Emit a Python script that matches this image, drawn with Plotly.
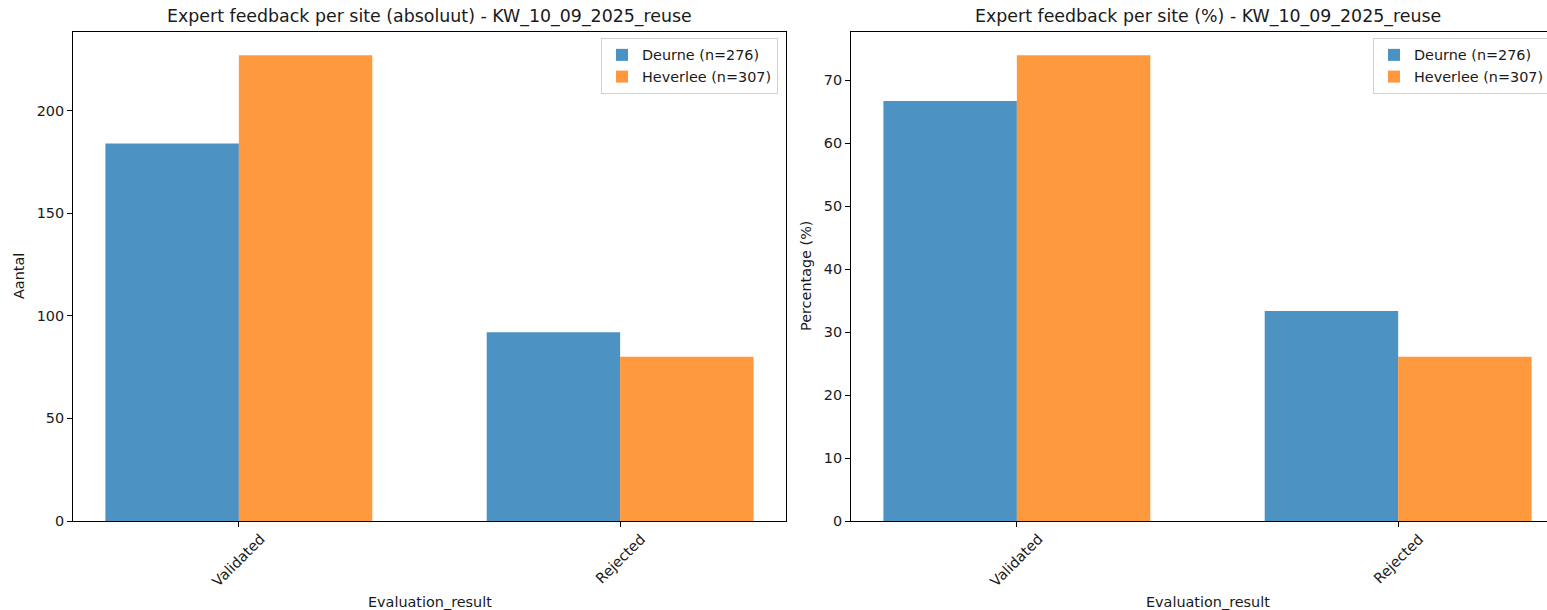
import plotly.graph_objects as go

# ---- data ----
categories = ["Validated", "Rejected"]
site_names = ["Deurne", "Heverlee"]
site_totals = [276, 307]
deurne_counts = [184, 92]
heverlee_counts = [227, 80]
count_ticks = [0, 50, 100, 150, 200]
pct_ticks = [0, 10, 20, 30, 40, 50, 60, 70]
run_name = "KW_10_09_2025_reuse"

deurne_pct = [v / site_totals[0] * 100 for v in deurne_counts]
heverlee_pct = [v / site_totals[1] * 100 for v in heverlee_counts]

BLUE = "#1f77b4"
ORANGE = "#ff7f0e"
TXT = "#1a1a1a"
FONT = "DejaVu Sans"
FS = 14.4
FT = 17.4

W, H = 1547, 610
def px(x):
    return x / W
def py(y):
    return (H - y) / H

fig = go.Figure()

labels = [f"{n} (n={t})" for n, t in zip(site_names, site_totals)]
for vals, col, lab in [(deurne_counts, BLUE, labels[0]), (heverlee_counts, ORANGE, labels[1])]:
    fig.add_trace(go.Bar(x=categories, y=vals, name=lab, marker=dict(color=col, line=dict(width=0)),
                         opacity=0.8, xaxis="x", yaxis="y", legend="legend"))
for vals, col, lab in [(deurne_pct, BLUE, labels[0]), (heverlee_pct, ORANGE, labels[1])]:
    fig.add_trace(go.Bar(x=categories, y=vals, name=lab, marker=dict(color=col, line=dict(width=0)),
                         opacity=0.8, xaxis="x2", yaxis="y2", legend="legend2"))

ydom = [py(521), py(32)]
axis_common = dict(showgrid=False, zeroline=False, showline=True, linecolor="black", linewidth=1,
                   ticks="outside", ticklen=5, tickwidth=1, tickcolor="black",
                   tickfont=dict(family=FONT, size=FS, color=TXT))

fig.update_layout(
    width=W, height=H,
    margin=dict(l=0, r=0, t=0, b=0, autoexpand=False),
    paper_bgcolor="white", plot_bgcolor="white",
    barmode="group", bargap=0.3, bargroupgap=0,
    font=dict(family=FONT, size=FS, color=TXT),
    xaxis=dict(domain=[px(73), px(786)], range=[-0.435, 1.435], anchor="y", mirror=True,
               showticklabels=False, **axis_common),
    yaxis=dict(domain=ydom, range=[0, max(heverlee_counts + deurne_counts) * 1.05], anchor="x",
               mirror=True, tickvals=count_ticks, **axis_common),
    xaxis2=dict(domain=[px(851), 1.0], range=[-0.435, -0.435 + (1547 - 851) / 381.3], anchor="y2",
                mirror=True, showticklabels=False, **axis_common),
    yaxis2=dict(domain=ydom, range=[0, max(heverlee_pct + deurne_pct) * 1.05], anchor="x2",
                mirror=False, tickvals=pct_ticks, **axis_common),
    legend=dict(x=px(778), xanchor="right", y=py(38), yanchor="top",
                bgcolor="rgba(255,255,255,0.8)", bordercolor="#d0d0d0", borderwidth=1,
                font=dict(family=FONT, size=FS, color=TXT), tracegroupgap=0),
    legend2=dict(x=px(1373), xanchor="left", y=py(38), yanchor="top",
                 bgcolor="rgba(255,255,255,0.8)", bordercolor="#d0d0d0", borderwidth=1,
                 font=dict(family=FONT, size=FS, color=TXT), tracegroupgap=0),
)

ann = []
# titles
ann.append(dict(text=f"Expert feedback per site (absoluut) - {run_name}", xref="paper", yref="paper",
                x=px((73 + 786) / 2), y=py(17), xanchor="center", yanchor="middle", showarrow=False,
                font=dict(family=FONT, size=FT, color=TXT)))
ann.append(dict(text=f"Expert feedback per site (%) - {run_name}", xref="paper", yref="paper",
                x=px((851 + 1564) / 2), y=py(17), xanchor="center", yanchor="middle", showarrow=False,
                font=dict(family=FONT, size=FT, color=TXT)))
# axis titles
for xr, yr, cx, ylab, ylx in [("x", "y", (73 + 786) / 2, "Aantal", 19),
                              ("x2", "y2", (851 + 1564) / 2, "Percentage (%)", 806)]:
    ann.append(dict(text="Evaluation_result", xref="paper", yref="paper", x=px(cx), y=py(602),
                    xanchor="center", yanchor="middle", showarrow=False,
                    font=dict(family=FONT, size=FS, color=TXT)))
    ann.append(dict(text=ylab, xref="paper", yref="paper", x=px(ylx), y=py(276), textangle=-90,
                    xanchor="center", yanchor="middle", showarrow=False,
                    font=dict(family=FONT, size=FS, color=TXT)))
    # rotated category tick labels
    for c in categories:
        ann.append(dict(text=c, xref=xr, yref=f"{yr} domain", x=c, y=0, yshift=-7,
                        textangle=-45, xanchor="center", yanchor="top", showarrow=False,
                        font=dict(family=FONT, size=FS, color=TXT)))
fig.update_layout(annotations=ann)

fig.write_html("out.html", config={"displayModeBar": False},
               post_script="document.body.style.margin='0';document.body.style.overflow='hidden';")
